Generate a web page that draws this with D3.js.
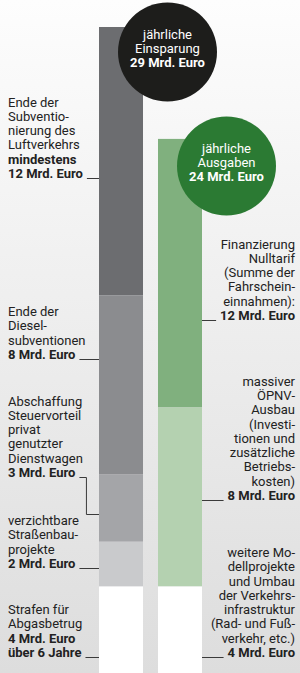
<!DOCTYPE html>
<html>
<head>
<meta charset="utf-8">
<script src="https://cdn.jsdelivr.net/npm/d3@7"></script>
<style>
  html, body { margin: 0; padding: 0; }
  svg { display: block; }
  text { font-family: "Liberation Sans Narrow", "Roboto", sans-serif; }
</style>
</head>
<body>
<div id="chart"></div>
<script>
// Einsparungen (links) und Ausgaben (rechts), Mrd. Euro pro Jahr
const savingCategories = ['Luftverkehr', 'Diesel', 'Dienstwagen', 'Straßenbau', 'Abgasbetrug'];
const savingValues = [12, 8, 3, 2, 4];
const spendingCategories = ['Nulltarif', 'ÖPNV-Ausbau', 'Modellprojekte'];
const spendingValues = [12, 8, 4];

// Beschriftungen, '*' = fett
const savingNotes = [
    ['Ende der', 'Subventio-', 'nierung des', 'Luftverkehrs', '*mindestens', '*12 Mrd. Euro'],
    ['Ende der', 'Diesel-', 'subventionen', '*8 Mrd. Euro'],
    ['Abschaffung', 'Steuervorteil', 'privat', 'genutzter', 'Dienstwagen', '*3 Mrd. Euro'],
    ['verzichtbare', 'Straßenbau-', 'projekte', '*2 Mrd. Euro'],
    ['Strafen für', 'Abgasbetrug', '*4 Mrd. Euro', '*über 6 Jahre']
];
const spendingNotes = [
    ['Finanzierung', 'Nulltarif', '(Summe der', 'Fahrschein-', 'einnahmen):', '*12 Mrd. Euro'],
    ['massiver', 'ÖPNV-', 'Ausbau', '(Investi-', 'tionen und', 'zusätzliche', 'Betriebs-', 'kosten)', '*8 Mrd. Euro'],
    ['weitere Mo-', 'dellprojekte', 'und Umbau', 'der Verkehrs-', 'infrastruktur', '(Rad- und Fuß-', 'verkehr, etc.)', '*4 Mrd. Euro']
];
const totalLines = [['jährliche', 'Einsparung'], ['jährliche', 'Ausgaben']];

const width = 300, height = 673;
const savingColors = ['#6c6d70', '#8b8c8f', '#a4a5a8', '#c9cacc', '#ffffff'];
const spendingColors = ['#80b07e', '#b4d1b0', '#ffffff'];
const lineH = 14.3;
const fontSize = 13;

const svg = d3.select('#chart').append('svg')
    .attr('width', width)
    .attr('height', height);

const grad = svg.append('defs').append('linearGradient')
    .attr('id', 'bg')
    .attr('x1', 0).attr('y1', 0).attr('x2', 0).attr('y2', 1);
grad.append('stop').attr('offset', '0%').attr('stop-color', '#fdfdfd');
grad.append('stop').attr('offset', '100%').attr('stop-color', '#dddddd');

svg.append('rect')
    .attr('width', width)
    .attr('height', height)
    .attr('fill', 'url(#bg)');

const y = d3.scaleLinear()
    .domain([0, d3.sum(savingValues)])
    .range([676, 27]);

const x = d3.scaleBand()
    .domain(['saving', 'spending'])
    .range([99, 202])
    .paddingInner(0.254);

function stackUp(values) {
    // von oben nach unten gestapelt, unten bündig
    let acc = d3.sum(values);
    return values.map(v => {
        const top = acc;
        acc -= v;
        return { top, bottom: acc, value: v };
    });
}

const savingStack = stackUp(savingValues);
const spendingStack = stackUp(spendingValues);

svg.append('g').selectAll('rect')
    .data(savingStack)
    .enter().append('rect')
    .attr('x', x('saving'))
    .attr('width', x.bandwidth())
    .attr('y', d => y(d.top))
    .attr('height', d => y(d.bottom) - y(d.top))
    .attr('fill', (d, i) => savingColors[i]);

svg.append('g').selectAll('rect')
    .data(spendingStack)
    .enter().append('rect')
    .attr('x', x('spending'))
    .attr('width', x.bandwidth())
    .attr('y', d => y(d.top))
    .attr('height', d => y(d.bottom) - y(d.top))
    .attr('fill', (d, i) => spendingColors[i]);

// Notizen
function drawNote(lines, lastBaseline, anchor, xPos) {
    const g = svg.append('g');
    const n = lines.length;
    const t = g.append('text')
        .attr('font-size', fontSize)
        .attr('fill', '#222')
        .attr('text-anchor', anchor);
    lines.forEach((l, i) => {
        const bold = l.startsWith('*');
        t.append('tspan')
            .attr('x', xPos)
            .attr('y', lastBaseline - (n - 1 - i) * lineH)
            .attr('font-weight', bold ? 'bold' : 'normal')
            .text(bold ? l.slice(1) : l);
    });
    const last = t.selectAll('tspan').nodes()[n - 1];
    return last.getComputedTextLength();
}

const savingAnchors = [178, 359, 477, 568, 657];
const savingTargets = [178, 359, 514, 568, 657];
const spendingAnchors = [320, 500, 657];

const barLeft = x('saving');
savingNotes.forEach((lines, i) => {
    const w = drawNote(lines, savingAnchors[i], 'start', 8);
    const x0 = 8 + w + 4;
    const yA = savingAnchors[i] + 0.5, yB = savingTargets[i] + 0.5;
    let path;
    if (yA === yB) {
        path = `M${x0},${yA}H${barLeft}`;
    } else {
        const xm = x0 + 7;
        path = `M${x0},${yA}H${xm}V${yB}H${barLeft}`;
    }
    svg.append('path')
        .attr('d', path)
        .attr('fill', 'none')
        .attr('stroke', '#3a3a3a')
        .attr('stroke-width', 1);
});

const barRight = x('spending') + x.bandwidth();
spendingNotes.forEach((lines, i) => {
    const w = drawNote(lines, spendingAnchors[i], 'end', 295);
    const x1 = 295 - w - 4;
    svg.append('path')
        .attr('d', `M${barRight},${spendingAnchors[i] + 0.5}H${x1}`)
        .attr('fill', 'none')
        .attr('stroke', '#3a3a3a')
        .attr('stroke-width', 1);
});

// Kreise mit Summen
const circles = [
    { cx: 167.5, cy: 52, fill: '#1d1d1b', lines: totalLines[0], total: d3.sum(savingValues) },
    { cx: 226.5, cy: 166, fill: '#2b7a33', lines: totalLines[1], total: d3.sum(spendingValues) }
];

circles.forEach(c => {
    svg.append('circle')
        .attr('cx', c.cx)
        .attr('cy', c.cy)
        .attr('r', 49.5)
        .attr('fill', c.fill);
    const t = svg.append('text')
        .attr('font-size', fontSize)
        .attr('fill', '#fff')
        .attr('text-anchor', 'middle');
    const all = c.lines.concat(['*' + c.total + ' Mrd. Euro']);
    all.forEach((l, i) => {
        const bold = l.startsWith('*');
        t.append('tspan')
            .attr('x', c.cx)
            .attr('y', c.cy - 13 + i * 13.8)
            .attr('font-weight', bold ? 'bold' : 'normal')
            .text(bold ? l.slice(1) : l);
    });
});
</script>
</body>
</html>
